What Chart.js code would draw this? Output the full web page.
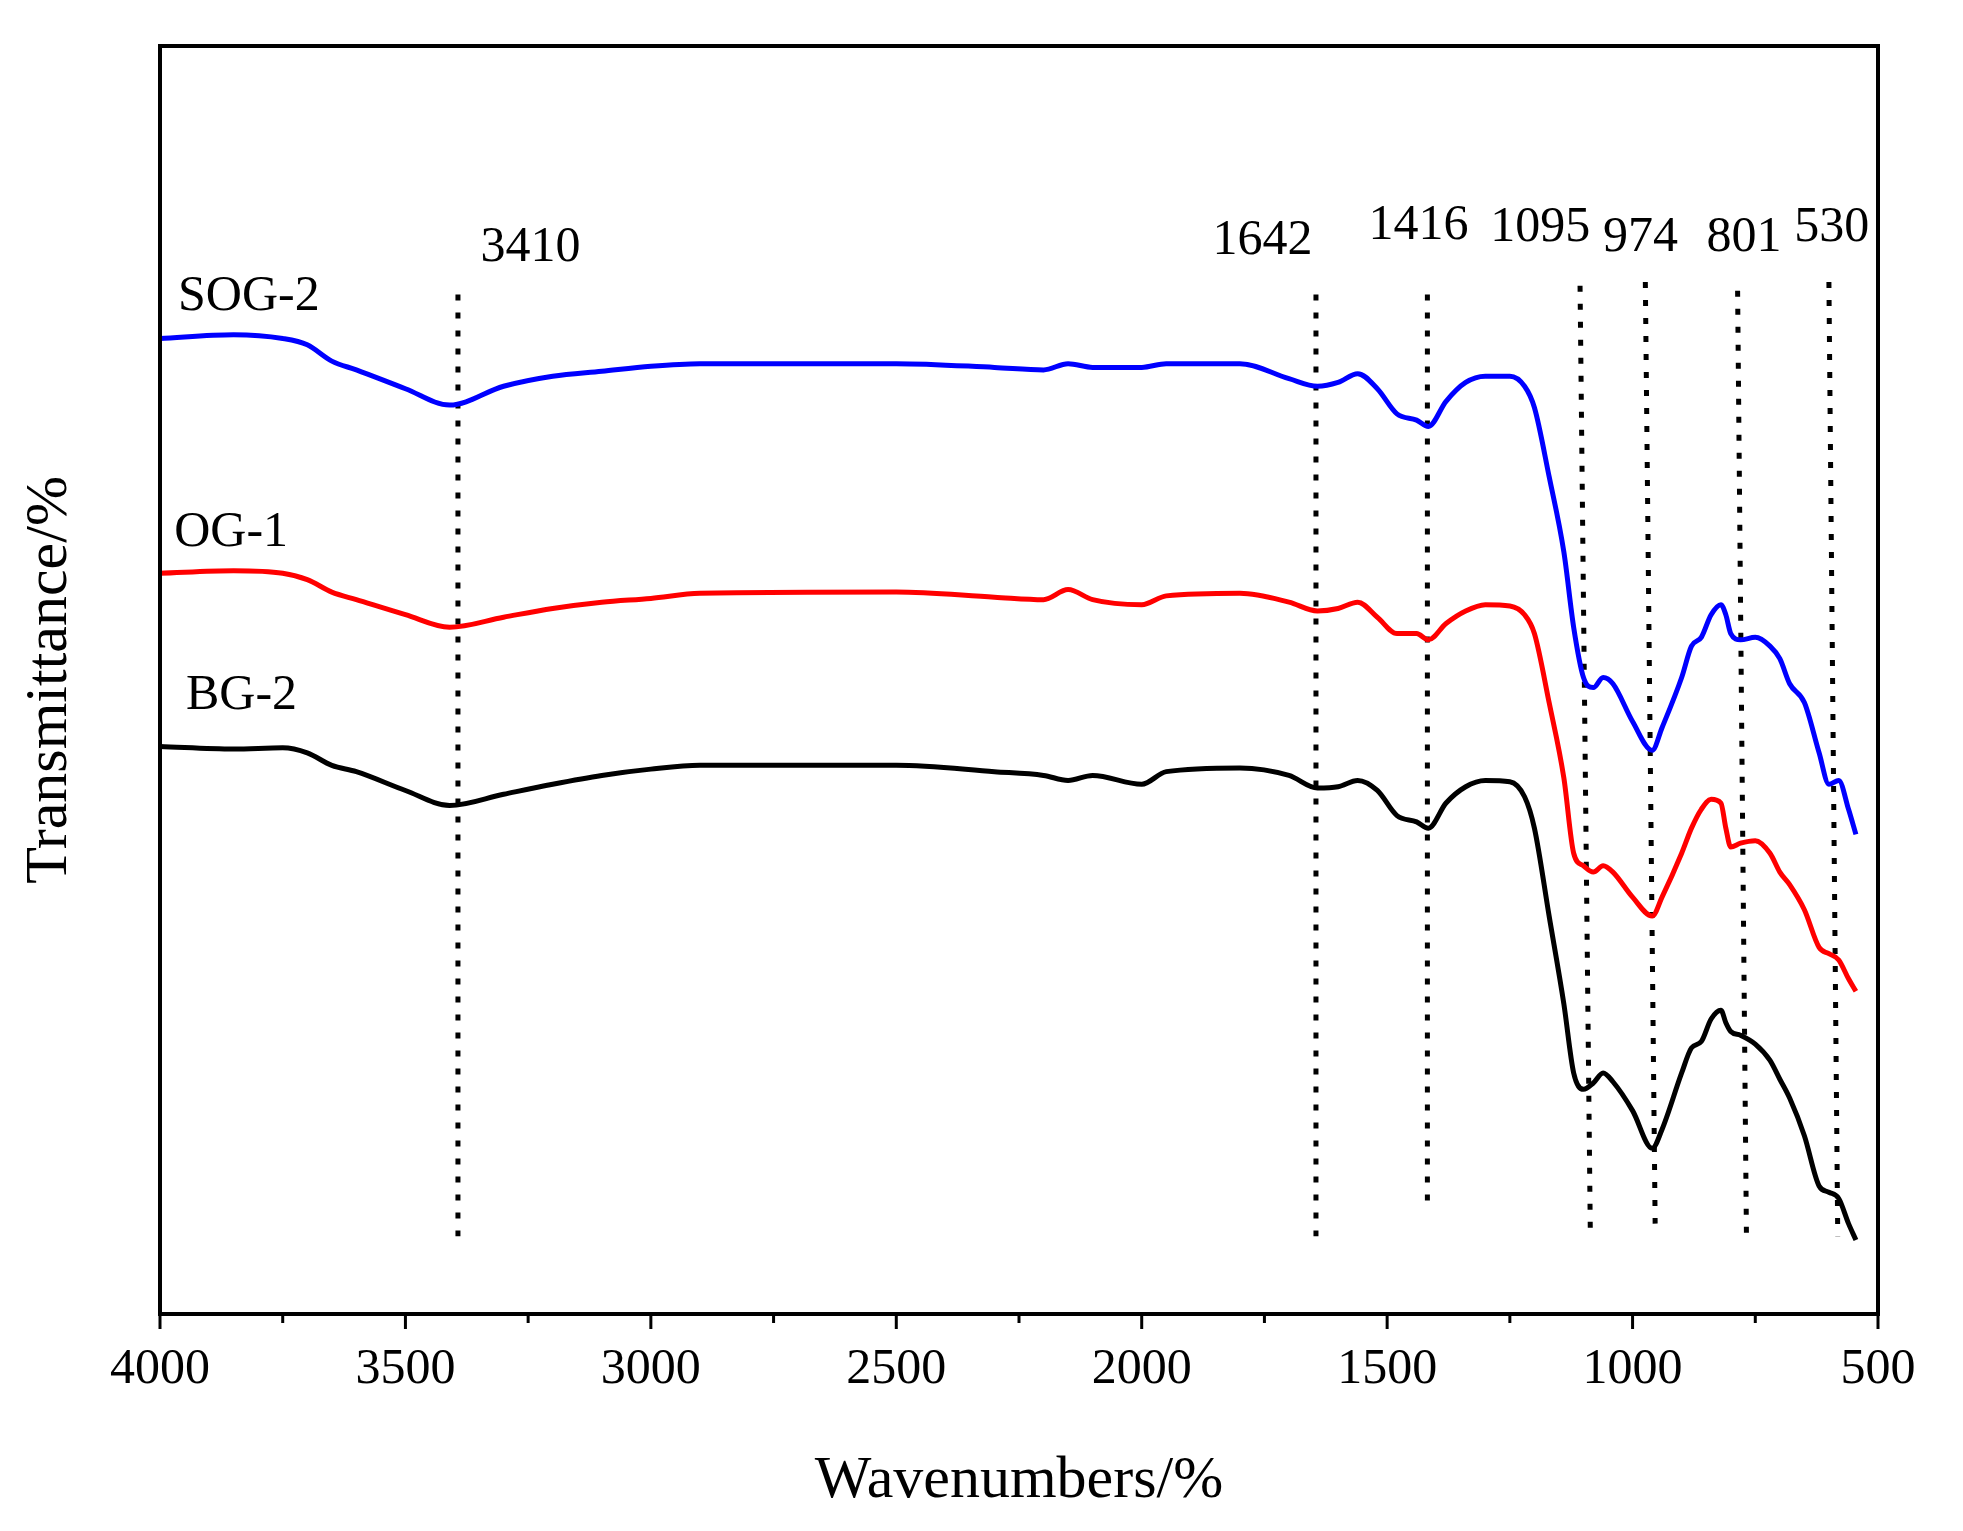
<!DOCTYPE html>
<html><head><meta charset="utf-8">
<script src="https://cdn.jsdelivr.net/npm/chart.js@4"></script>
<style>html,body{margin:0;padding:0;background:#fff}#w{width:1963px;height:1531px}</style>
</head><body><div id="w"><canvas id="c"></canvas></div>
<script>
const wavenumbers=[4000,3850,3750,3700,3650,3600,3500,3410,3300,3200,3100,3000,2900,2500,2300,2200,2150,2100,2000,1950,1800,1700,1642,1600,1560,1520,1480,1440,1416,1380,1340,1300,1250,1220,1200,1170,1140,1120,1100,1080,1060,1040,1000,960,940,900,880,860,840,820,810,800,780,750,720,700,680,650,620,600,580,560,545];
const sog2=[77.7,78.0,77.7,77.2,75.9,75.2,73.7,72.4,73.9,74.7,75.1,75.5,75.7,75.7,75.4,75.2,75.7,75.4,75.4,75.7,75.7,74.5,73.9,74.2,74.9,73.7,71.7,71.2,70.7,72.7,74.2,74.7,74.7,73.9,72.2,66.7,60.7,54.7,50.7,49.9,50.7,50.2,47.2,44.9,46.7,50.7,53.2,53.9,55.7,56.5,55.7,54.2,53.7,53.9,53.2,52.2,50.2,48.7,44.7,42.2,42.5,40.2,38.2];
const og1=[59.0,59.2,59.0,58.5,57.5,56.9,55.7,54.7,55.5,56.2,56.7,57.0,57.4,57.5,57.1,56.9,57.7,56.9,56.5,57.2,57.4,56.7,56.0,56.2,56.7,55.5,54.2,54.2,53.7,55.0,56.0,56.5,56.4,55.7,54.2,48.7,42.7,36.7,35.7,35.2,35.7,35.2,33.2,31.7,33.2,36.7,38.7,40.2,41.0,40.7,38.7,37.2,37.5,37.7,36.7,35.2,34.2,32.2,29.2,28.7,28.2,26.7,25.7];
const bg2=[45.2,45.0,45.1,44.7,43.7,43.2,41.7,40.5,41.4,42.2,42.9,43.4,43.7,43.7,43.2,42.9,42.5,42.9,42.2,43.2,43.5,42.9,41.9,42.0,42.5,41.7,39.7,39.2,38.7,40.7,42.0,42.5,42.4,41.2,38.7,31.7,24.7,19.2,17.9,18.4,19.2,18.5,16.2,13.2,14.7,19.2,21.2,21.7,23.5,24.2,23.2,22.5,22.2,21.5,20.2,18.7,17.2,14.2,10.2,9.7,9.2,7.2,5.9];
const seriesNames=['SOG-2','OG-1','BG-2'];
const seriesColors=['#0000ff','#ff0000','#000000'];
const seriesLabelPos=[[3819,81.0],[3855,62.2],[3834,49.2]];
const peakLabels=['3410','1642','1416','1095','974','801','530'];
const peakXTop=[3393,1645,1418,1107,974,786,600];
const peakXBottom=[3393,1645,1418,1086,954,768,582];
const peakYTop=[81.2,81.2,81.2,81.9,82.2,81.5,82.2];
const peakYBottom=[6.2,6.2,8.7,6.2,7.2,6.2,6.2];
const peakLabelX=[3245,1754,1436,1188,984,773,594];
const peakLabelY=[84.9,85.5,86.7,86.5,85.7,85.7,86.5];
const xTicksMajor=[4000,3500,3000,2500,2000,1500,1000,500];

const FONT='"Liberation Serif", "Times New Roman", serif';
const mk=(arr)=>wavenumbers.map((x,i)=>({x:x,y:arr[i]}));
const datasets=[sog2,og1,bg2].map((a,i)=>({data:mk(a),borderColor:seriesColors[i],borderWidth:5,pointRadius:0,cubicInterpolationMode:'monotone',fill:false}));
peakLabels.forEach((l,i)=>datasets.push({data:[{x:peakXTop[i],y:peakYTop[i]},{x:peakXBottom[i],y:peakYBottom[i]}],borderColor:'#000',borderWidth:5,borderDash:[6,12],pointRadius:0,fill:false}));

const deco={id:'deco',afterDraw(ch){
  const c=ch.ctx,a=ch.chartArea,xs=ch.scales.x,ys=ch.scales.y;
  c.save();
  c.strokeStyle='#000';c.lineWidth=4;
  c.strokeRect(a.left,a.top,a.right-a.left,a.bottom-a.top);
  c.lineWidth=3;
  for(let v=500;v<=4000;v+=250){
    const px=xs.getPixelForValue(v);const len=(v%500===0)?15:9;
    c.beginPath();c.moveTo(px,a.bottom);c.lineTo(px,a.bottom+len);c.stroke();
  }
  c.fillStyle='#000';c.textAlign='center';c.textBaseline='middle';
  c.font='50px '+FONT;
  peakLabels.forEach((l,i)=>c.fillText(l,xs.getPixelForValue(peakLabelX[i]),ys.getPixelForValue(peakLabelY[i])));
  seriesNames.forEach((n,i)=>c.fillText(n,xs.getPixelForValue(seriesLabelPos[i][0]),ys.getPixelForValue(seriesLabelPos[i][1])));
  c.restore();
}};

new Chart(document.getElementById('c'),{type:'line',data:{datasets},
 options:{responsive:true,maintainAspectRatio:false,animation:false,
  layout:{padding:{left:10,right:85,top:46,bottom:10}},
  plugins:{legend:{display:false},tooltip:{enabled:false}},
  scales:{
   x:{type:'linear',reverse:true,min:500,max:4000,
      afterBuildTicks(s){s.ticks=xTicksMajor.map(v=>({value:v}));},
      afterFit(s){s.height=207;},
      grid:{display:false},border:{display:false},
      ticks:{color:'#000',font:{family:FONT,size:50},padding:18,maxRotation:0,callback:v=>String(v)},
      title:{display:true,text:'Wavenumbers/%',color:'#000',font:{family:FONT,size:60},padding:{top:20}}},
   y:{min:0,max:101,afterFit(s){s.width=150;},
      grid:{display:false},border:{display:false},ticks:{display:false},
      title:{display:true,text:'Transmittance/%',color:'#000',font:{family:FONT,size:60},padding:{bottom:40}}}
  }},plugins:[deco]});
</script></body></html>
